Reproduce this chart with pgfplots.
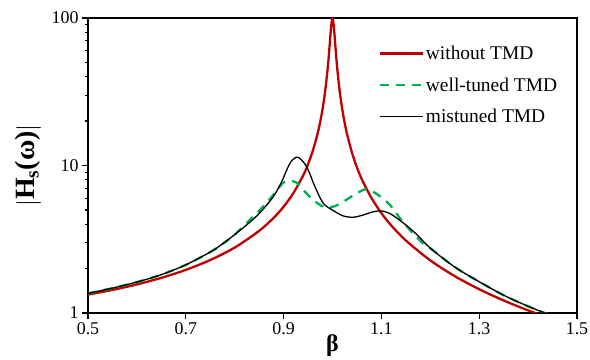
\documentclass[border=0pt]{standalone}
\usepackage{fontspec}
\setmainfont{Liberation Serif}
\usepackage{pgfplots}
\pgfplotsset{compat=1.18}
\definecolor{cred}{RGB}{192,0,0}
\definecolor{cgreen}{RGB}{0,176,80}
\begin{document}
\begin{tikzpicture}
\useasboundingbox (0,0) rectangle (590bp,360bp);
\begin{axis}[
  at={(88bp,47bp)}, anchor=south west,
  scale only axis, width=489bp, height=295bp,
  xmin=0.5, xmax=1.5, ymin=1, ymax=100, ymode=log,
  xtick={0.5,0.7,0.9,1.1,1.3,1.5},
  xticklabels={\textrm{0.5},\textrm{0.7},\textrm{0.9},\textrm{1.1},\textrm{1.3},\textrm{1.5}},
  ytick={1,10,100}, yticklabels={\textrm{1},\textrm{10},\textrm{100}},
  /pgf/number format/assume math mode=true,
  tick align=outside, xtick pos=bottom, ytick pos=left,
  major tick length=6bp,
  tick style={black, line width=1.2bp},
  axis line style={line width=1.2bp},
  ticklabel style={font=\fontsize{18}{20}\selectfont\rmfamily},
  xlabel={\textbf{β}}, ylabel={$\mathbf{|}$\textbf{H\textsubscript{s}(ω)}$\mathbf{|}$},
  xlabel style={font=\fontsize{24}{26}\selectfont, at={(axis description cs:0.5,-0.112)}, anchor=center},
  ylabel style={font=\fontsize{28}{30}\selectfont, at={(axis description cs:-0.122,0.5)}, anchor=center, rotate=0},
  legend style={draw=none, fill=none, at={(0.594,0.912)}, anchor=north west,
    font=\fontsize{19.5}{21}\selectfont, row sep=12.5bp, inner sep=0pt},
  legend cell align=left,
  legend image code/.code={\draw[#1] (0bp,0bp) -- (43bp,0bp);},
]
\addplot[cred, line width=2.3bp, smooth] coordinates {
(0.50,1.3333)(0.55,1.4337)(0.60,1.5625)(0.65,1.7316)(0.70,1.9608)(0.75,2.2857)
(0.80,2.7778)(0.85,3.6036)(0.88,4.4326)(0.90,5.2574)(0.92,6.4987)(0.94,8.563)
(0.95,10.208)(0.96,12.660)(0.97,16.697)(0.975,19.87)(0.98,24.513)(0.985,31.886)
(0.99,44.99)(0.9925,55.74)(0.995,70.98)(0.9975,89.65)(1.0,100)(1.0025,88.76)
(1.005,70.45)(1.0075,55.20)(1.01,44.45)(1.015,31.36)(1.02,24.00)(1.025,19.36)
(1.03,16.191)(1.04,12.157)(1.05,9.705)(1.06,8.061)(1.08,5.997)(1.10,4.7553)
(1.12,3.927)(1.15,3.1006)(1.20,2.2727)(1.25,1.7778)(1.30,1.4493)(1.35,1.2158)
(1.40,1.0417)(1.45,0.907)
};
\addlegendentry{without TMD}
\addplot[cgreen, line width=2.3bp, dash pattern=on 9bp off 7bp, smooth] coordinates {
(0.50,1.358)(0.55,1.475)(0.60,1.621)(0.65,1.82)(0.70,2.12)(0.75,2.59)(0.77,2.86)
(0.80,3.40)(0.83,4.25)(0.855,5.13)(0.8757,6.14)(0.8994,7.65)(0.913,7.85)(0.9268,7.65)
(0.9403,6.82)(0.9607,5.84)(0.9812,5.26)(1.0016,5.26)(1.0221,5.68)(1.0495,6.48)
(1.0699,6.90)(1.0937,6.31)(1.1176,5.40)(1.138,4.39)(1.1585,3.65)(1.1857,2.95)
(1.20,2.75)(1.25,2.05)(1.30,1.63)(1.35,1.32)(1.40,1.11)(1.45,0.954)
};
\addlegendentry{well-tuned TMD}
\addplot[black, line width=1.3bp, smooth] coordinates {
(0.50,1.358)(0.55,1.475)(0.60,1.621)(0.65,1.82)(0.70,2.12)(0.75,2.59)(0.77,2.86)
(0.80,3.40)(0.83,4.10)(0.852,4.80)(0.8789,6.14)(0.8961,7.77)(0.9063,9.32)(0.9166,10.78)
(0.930,11.36)(0.9472,9.81)(0.9642,7.18)(0.9812,5.54)(1.0016,4.95)(1.0221,4.55)
(1.0425,4.46)(1.0630,4.62)(1.0834,4.86)(1.1006,4.92)(1.1176,4.72)(1.1448,4.08)
(1.1722,3.41)(1.20,2.75)(1.25,2.05)(1.30,1.63)(1.35,1.32)(1.40,1.11)(1.45,0.954)
};
\addlegendentry{mistuned TMD}
\end{axis}
\end{tikzpicture}
\end{document}
